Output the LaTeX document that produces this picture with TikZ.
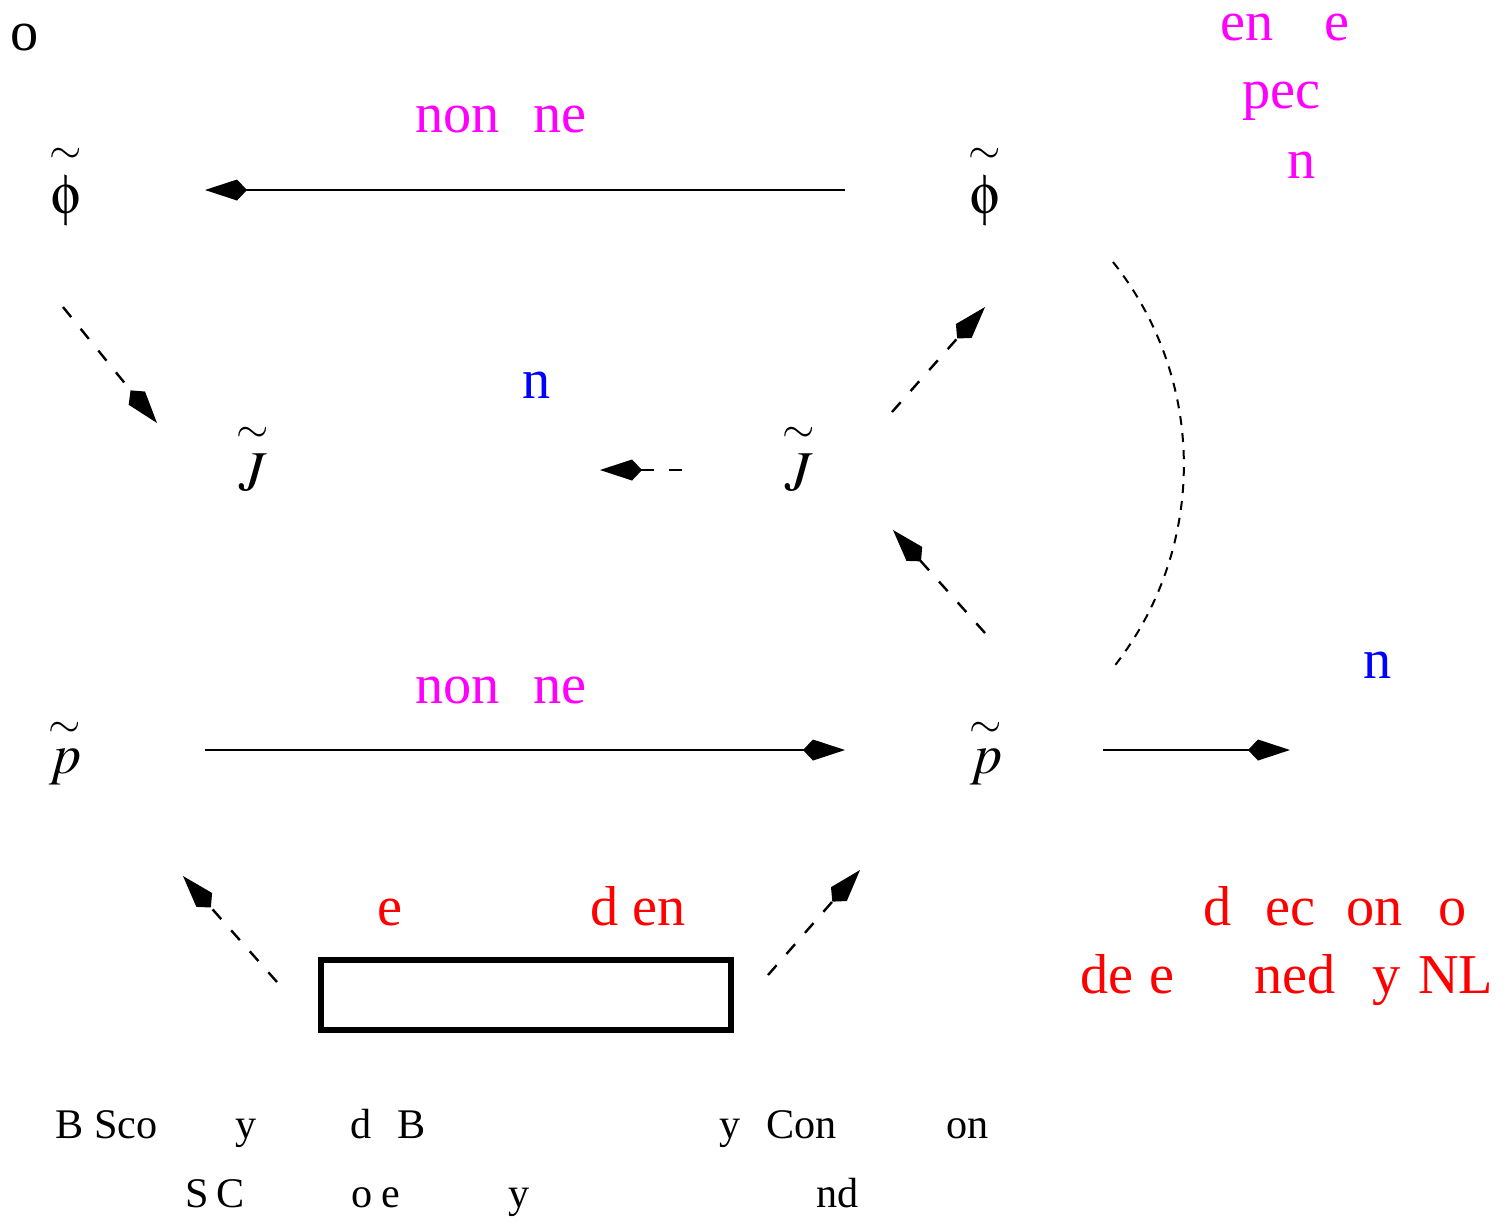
\documentclass[tikz,border=0pt]{standalone}
\usepackage{mathptmx}
\usepackage{fontspec}
\setmainfont{Liberation Serif}
\usetikzlibrary{arrows.meta,positioning}
\definecolor{fuchsia}{RGB}{255,0,255}
\newlength\pixlen
\setlength\pixlen{0.01cm}
\newcommand{\skipby}[1]{\hspace*{#1\pixlen}}
\newcommand{\symphi}{\usefont{U}{psy}{m}{n}f}
\newcommand{\wavy}[1]{\stackrel{\sim}{\mbox{#1}}}
\tikzset{
  kitetip/.style={-{Kite[length=0.42cm,width=0.21cm,inset=0.1cm]}},
  conn/.style={line width=0.024cm, kitetip},
  dconn/.style={conn, dash pattern=on 0.13cm off 0.15cm},
  symb/.style={inner sep=0pt, anchor=base, font=\fontsize{16}{19}\selectfont},
  lbl/.style={inner sep=0pt, anchor=base west, font=\fontsize{16}{19}\selectfont},
  note/.style={inner sep=0pt, anchor=base west, font=\fontsize{12}{14}\selectfont},
}
\begin{document}
\begin{tikzpicture}[x=0.01cm, y=-0.01cm]
  \useasboundingbox (0,0) rectangle (1506,1223);
  % symbols
  \node[symb] (phiL) at (66,213) {$\wavy{\symphi}$};
  \node[symb] (phiR) at (985,213) {$\wavy{\symphi}$};
  \node[symb] (JL) at (253,490) {$\wavy{$J$}$};
  \node[symb] (JR) at (799,490) {$\wavy{$J$}$};
  \node[symb] (pL) at (65,773) {$\wavy{$p$}$};
  \node[symb] (pR) at (986,773) {$\wavy{$p$}$};
  \node[draw, line width=0.06cm, minimum width=4.1cm, minimum height=0.7cm,
        inner sep=0pt] (box) at (526,995) {};
  % connector ends
  \coordinate (topA) at (845,190);
  \coordinate (topB) at (205,190);
  \coordinate (botA) at (205,750);
  \coordinate (botB) at (845,750);
  \coordinate (outA) at (1103,750);
  \coordinate (outB) at (1290,750);
  \coordinate (dl1) at (63,307);
  \coordinate (dl2) at (157,423);
  \coordinate (dm1) at (682,470);
  \coordinate (dm2) at (600,470);
  \coordinate (du1) at (892,412);
  \coordinate (du2) at (985,307);
  \coordinate (dd1) at (985,633);
  \coordinate (dd2) at (893,530);
  \coordinate (bl1) at (277,982);
  \coordinate (bl2) at (183,876);
  \coordinate (br1) at (768,975);
  \coordinate (br2) at (860,870);
  \coordinate (arcTop) at (1113,262);
  % connectors
  \draw[conn] (topA) -- (topB);
  \draw[conn] (botA) -- (botB);
  \draw[conn] (outA) -- (outB);
  \draw[dconn] (dl1) -- (dl2);
  \draw[dconn] (dm1) -- (dm2);
  \draw[dconn] (du1) -- (du2);
  \draw[dconn] (dd1) -- (dd2);
  \draw[dconn] (bl1) -- (bl2);
  \draw[dconn] (br1) -- (br2);
  \draw[line width=0.02cm, dash pattern=on 0.09cm off 0.08cm]
    (arcTop) arc[start angle=-38.5, end angle=38.5, radius=326];
  % labels
  \node[lbl] (corner) at (10,50) {o};
  \node[lbl, text=fuchsia] (topLbl) at (415,132) {non\skipby{33}ne};
  \node[lbl, text=fuchsia] (botLbl) at (415,703) {non\skipby{33}ne};
  \node[lbl, text=blue] (midLbl) at (522,398) {n};
  \node[lbl, text=blue] (outLbl) at (1363,678) {n};
  \node[lbl, text=fuchsia] (cornA) at (1220,40) {en\skipby{51}e};
  \node[lbl, text=fuchsia] (cornB) at (1242,108) {pec};
  \node[lbl, text=fuchsia] (cornC) at (1287,178) {n};
  \node[lbl, text=red] (boxA) at (377,925) {e};
  \node[lbl, text=red] (boxB) at (590,925) {d en};
  \node[lbl, text=red] (sideA) at (1203,925) {d\skipby{34}ec\skipby{31}on\skipby{35}o};
  \node[lbl, text=red] (sideB) at (1080,993) {de\skipby{16}e\skipby{80}ned\skipby{36}y\skipby{18}NL};
  \node[note] (footA) at (55,1138) {B Sco\skipby{78}y\skipby{94}d\skipby{26}B\skipby{293}y\skipby{26}Con\skipby{110}on};
  \node[note] (footB) at (185,1207) {S\skipby{7}C\skipby{107}o\skipby{9}e\skipby{108}y\skipby{287}nd};
\end{tikzpicture}
\end{document}
